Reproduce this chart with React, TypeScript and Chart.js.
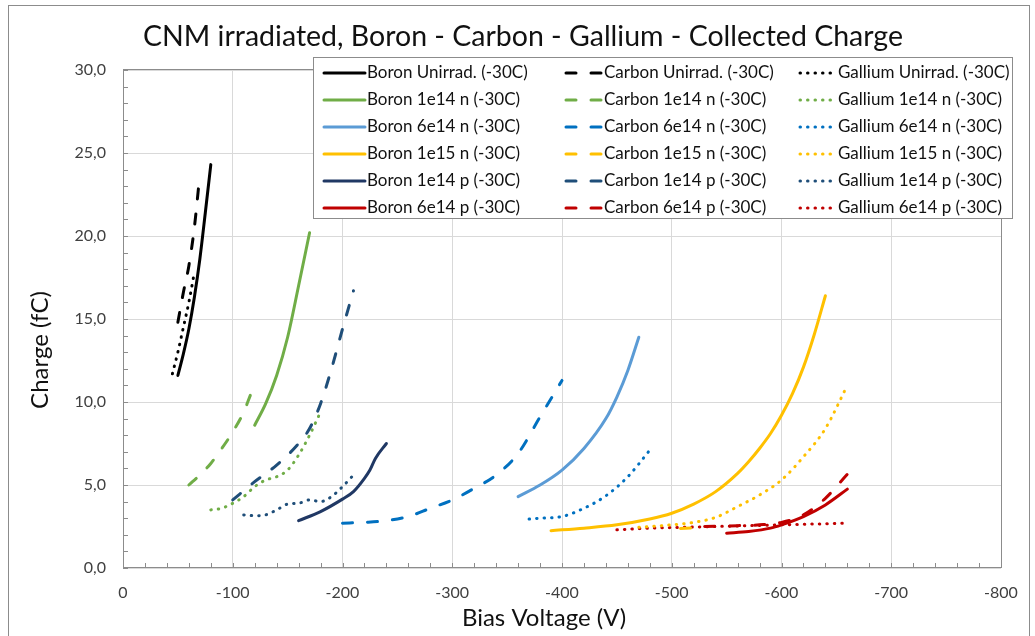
import React, { useEffect, useRef } from 'react';
import { Chart, registerables } from 'chart.js';
Chart.register(...registerables);

// ---- data: [bias voltage (V), charge (fC)] ----
const boronUnirrad = [[-50, 11.6], [-55, 12.9], [-60, 14.4], [-65, 16.3], [-70, 18.6], [-75, 21.4], [-80, 24.3]];
const carbonUnirrad = [[-50, 14.8], [-55, 16.6], [-60, 18.2], [-65, 20.5], [-70, 23.7]];
const galliumUnirrad = [[-45, 11.7], [-50, 13.0], [-55, 14.5], [-60, 16.0], [-65, 17.8]];

const boron1e14n = [[-120, 8.6], [-130, 9.9], [-140, 11.6], [-150, 13.9], [-160, 17.0], [-170, 20.2]];
const carbon1e14n = [[-60, 5.0], [-70, 5.6], [-80, 6.3], [-90, 7.2], [-100, 8.2], [-110, 9.4], [-116, 10.4]];
const gallium1e14n = [[-80, 3.5], [-90, 3.6], [-100, 3.9], [-110, 4.3], [-120, 4.9], [-130, 5.3], [-140, 5.5], [-150, 5.9], [-160, 6.8], [-170, 8.0], [-180, 9.4]];

const boron6e14n = [[-360, 4.3], [-380, 5.0], [-400, 5.9], [-420, 7.2], [-440, 9.0], [-450, 10.3], [-460, 11.9], [-470, 13.9]];
const carbon6e14n = [[-200, 2.7], [-220, 2.75], [-240, 2.85], [-260, 3.1], [-280, 3.6], [-300, 4.1], [-320, 4.8], [-340, 5.6], [-360, 6.9], [-380, 9.1], [-400, 11.3]];
const gallium6e14n = [[-370, 2.95], [-380, 3.0], [-400, 3.1], [-420, 3.6], [-440, 4.35], [-460, 5.5], [-480, 7.1]];

const boron1e15n = [[-390, 2.25], [-420, 2.4], [-450, 2.6], [-480, 2.95], [-500, 3.3], [-520, 3.85], [-540, 4.6], [-560, 5.7], [-570, 6.4], [-580, 7.2], [-590, 8.1], [-600, 9.2], [-610, 10.5], [-620, 12.1], [-630, 14.1], [-640, 16.4]];
const carbon1e15n = [[-508, 2.38], [-524, 2.42]];
const gallium1e15n = [[-470, 2.45], [-500, 2.6], [-520, 2.75], [-540, 3.05], [-560, 3.7], [-580, 4.4], [-600, 5.3], [-620, 6.7], [-640, 8.4], [-660, 11.0]];

const boron1e14p = [[-160, 2.85], [-180, 3.4], [-200, 4.15], [-210, 4.6], [-220, 5.4], [-225, 5.9], [-230, 6.6], [-240, 7.5]];
const carbon1e14p = [[-100, 4.1], [-120, 5.2], [-140, 6.2], [-160, 7.5], [-170, 8.4], [-180, 9.9], [-190, 12.0], [-200, 14.4], [-210, 16.7]];
const gallium1e14p = [[-110, 3.2], [-120, 3.15], [-130, 3.2], [-140, 3.5], [-150, 3.85], [-160, 3.9], [-170, 4.1], [-180, 4.0], [-190, 4.3], [-200, 4.9], [-210, 5.6]];

const boron6e14p = [[-550, 2.1], [-570, 2.2], [-590, 2.4], [-600, 2.6], [-620, 3.1], [-640, 3.8], [-660, 4.75]];
const carbon6e14p = [[-530, 2.5], [-560, 2.55], [-580, 2.6], [-600, 2.75], [-620, 3.2], [-640, 4.2], [-660, 5.65]];
const gallium6e14p = [[-450, 2.3], [-480, 2.4], [-510, 2.45], [-540, 2.5], [-570, 2.55], [-600, 2.6], [-630, 2.65], [-660, 2.7]];

const dopants = ['Boron', 'Carbon', 'Gallium'];
const conditions = ['Unirrad.', '1e14 n', '6e14 n', '1e15 n', '1e14 p', '6e14 p'];
const seriesData = [
  [boronUnirrad, boron1e14n, boron6e14n, boron1e15n, boron1e14p, boron6e14p],
  [carbonUnirrad, carbon1e14n, carbon6e14n, carbon1e15n, carbon1e14p, carbon6e14p],
  [galliumUnirrad, gallium1e14n, gallium6e14n, gallium1e15n, gallium1e14p, gallium6e14p],
];
const seriesColors = [
  ['#000000', '#70AD47', '#5B9BD5', '#FFC000', '#203864', '#C00000'],
  ['#000000', '#70AD47', '#0070C0', '#FFC000', '#1F4E79', '#C00000'],
  ['#000000', '#70AD47', '#0070C0', '#FFC000', '#1F4E79', '#C00000'],
];
const dashStyles = [[], [10, 15], [0.5, 7]];

const xTickValues = [0, -100, -200, -300, -400, -500, -600, -700, -800];
const yTickValues = [0, 5, 10, 15, 20, 25, 30];

const chartTitle = 'CNM irradiated, Boron - Carbon - Gallium - Collected Charge';
const xTitle = 'Bias Voltage (V)';
const yTitle = 'Charge (fC)';

const FONT = 'Lato, "Open Sans", sans-serif';

const framePlugin = {
  id: 'frame',
  beforeDraw(chart: any) {
    const ctx = chart.ctx;
    ctx.save();
    ctx.fillStyle = '#ffffff';
    ctx.fillRect(0, 0, chart.width, chart.height);
    ctx.strokeStyle = '#8c8c8c';
    ctx.lineWidth = 1;
    ctx.strokeRect(8.5, 5.5, 1021, 700);
    ctx.fillStyle = '#111111';
    ctx.textAlign = 'center';
    ctx.textBaseline = 'middle';
    ctx.font = `28.5px ${FONT}`;
    ctx.fillText(chartTitle, 523, 37);
    ctx.font = `24px ${FONT}`;
    ctx.fillText(xTitle, 544, 618);
    ctx.translate(40, 350);
    ctx.rotate(-Math.PI / 2);
    ctx.fillText(yTitle, 0, 0);
    ctx.restore();
  },
};

const axisPlugin = {
  id: 'axisBox',
  beforeDatasetsDraw(chart: any) {
    const { ctx, chartArea } = chart;
    const xs = chart.scales.x;
    const ys = chart.scales.y;
    ctx.save();
    ctx.strokeStyle = '#8c8c8c';
    ctx.lineWidth = 1;
    ctx.beginPath();
    for (let v = 0; v >= -800; v -= 20) {
      const px = Math.round(xs.getPixelForValue(v)) + 0.5;
      ctx.moveTo(px, chartArea.bottom);
      ctx.lineTo(px, chartArea.bottom - 5);
    }
    for (let q = 0; q <= 30; q += 1) {
      const py = Math.round(ys.getPixelForValue(q)) + 0.5;
      ctx.moveTo(chartArea.left, py);
      ctx.lineTo(chartArea.left + 5, py);
    }
    ctx.stroke();
    ctx.strokeRect(Math.round(chartArea.left) + 0.5, Math.round(chartArea.top) - 0.5,
      Math.round(chartArea.right - chartArea.left), Math.round(chartArea.bottom - chartArea.top));
    ctx.restore();
  },
};

const legendPlugin = {
  id: 'boxLegend',
  afterDraw(chart: any) {
    const ctx = chart.ctx;
    ctx.save();
    ctx.fillStyle = '#ffffff';
    ctx.fillRect(313, 57, 699, 161);
    ctx.strokeStyle = '#8c8c8c';
    ctx.lineWidth = 1;
    ctx.strokeRect(313.5, 57.5, 699, 161);
    const cols = [
      { x0: 324, x1: 365, tx: 367 },
      { x0: 566, x1: 601, tx: 604 },
      { x0: 800, x1: 834, tx: 838 },
    ];
    ctx.font = `17px ${FONT}`;
    ctx.textBaseline = 'middle';
    ctx.textAlign = 'left';
    chart.data.datasets.forEach((ds: any, i: number) => {
      const c = Math.floor(i / conditions.length);
      const r = i % conditions.length;
      const y = 73 + r * 27;
      const col = cols[c];
      ctx.strokeStyle = ds.borderColor;
      ctx.lineWidth = 3;
      ctx.lineCap = ds.borderCapStyle;
      ctx.setLineDash(ds.borderDash);
      ctx.beginPath();
      ctx.moveTo(col.x0, y);
      ctx.lineTo(col.x1, y);
      ctx.stroke();
      ctx.setLineDash([]);
      ctx.fillStyle = '#111111';
      ctx.fillText(ds.label, col.tx, y);
    });
    ctx.restore();
  },
};

export default function App() {
  const ref = useRef<HTMLCanvasElement | null>(null);
  useEffect(() => {
    if (!ref.current) return;
    const datasets: any[] = [];
    dopants.forEach((d, di) => {
      conditions.forEach((c, ci) => {
        datasets.push({
          label: `${d} ${c} (-30C)`,
          data: seriesData[di][ci].map(([x, y]) => ({ x, y })),
          borderColor: seriesColors[di][ci],
          backgroundColor: seriesColors[di][ci],
          borderWidth: 3,
          borderDash: dashStyles[di],
          borderCapStyle: 'round',
          borderJoinStyle: 'round',
          pointRadius: 0,
          pointHoverRadius: 0,
          fill: false,
          tension: 0.4,
          cubicInterpolationMode: 'monotone',
        });
      });
    });
    const chart = new Chart(ref.current, {
      type: 'line',
      data: { datasets },
      plugins: [framePlugin, axisPlugin, legendPlugin],
      options: {
        animation: false,
        responsive: false,
        devicePixelRatio: 1,
        layout: { padding: { top: 70, right: 34, bottom: 0, left: 0 } },
        plugins: { legend: { display: false }, tooltip: { enabled: false }, title: { display: false } },
        scales: {
          x: {
            type: 'linear',
            reverse: true,
            min: -800,
            max: 0,
            afterFit: (s: any) => { s.height = 68; },
            afterBuildTicks: (s: any) => { s.ticks = xTickValues.map((v) => ({ value: v })); },
            ticks: {
              padding: 15,
              color: '#404040',
              font: { family: FONT, size: 16 },
              callback: (v: any) => (Number(v) === 0 ? '0' : String(v)),
            },
            grid: { color: '#d9d9d9', drawTicks: false, lineWidth: 1 },
            border: { display: false },
          },
          y: {
            type: 'linear',
            min: 0,
            max: 30,
            afterFit: (s: any) => { s.width = 123; },
            afterBuildTicks: (s: any) => { s.ticks = yTickValues.map((v) => ({ value: v })); },
            ticks: {
              padding: 17,
              color: '#404040',
              font: { family: FONT, size: 16 },
              callback: (v: any) => Number(v).toFixed(1).replace('.', ','),
            },
            grid: { color: '#d9d9d9', drawTicks: false, lineWidth: 1 },
            border: { display: false },
          },
        },
      },
    } as any);
    return () => chart.destroy();
  }, []);
  return (
    <div style={{ position: 'absolute', left: 0, top: 0, width: 1035, height: 636, overflow: 'hidden' }}>
      <canvas ref={ref} width={1035} height={636} style={{ display: 'block', width: 1035, height: 636 }} />
    </div>
  );
}
